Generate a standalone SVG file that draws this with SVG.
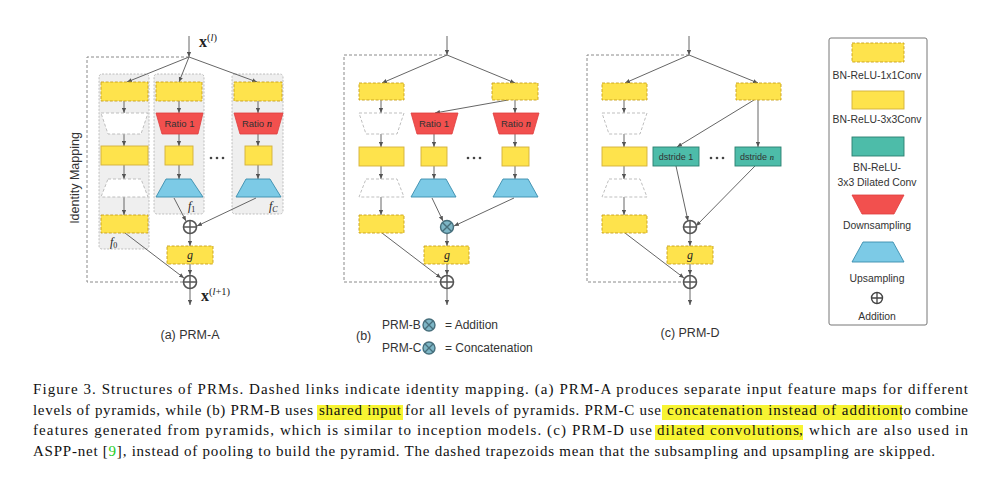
<svg xmlns="http://www.w3.org/2000/svg" width="982" height="495" viewBox="0 0 982 495">
<defs>
<marker id="ah" viewBox="0 0 6 6" refX="6" refY="3" markerWidth="5" markerHeight="5" orient="auto" markerUnits="userSpaceOnUse"><path d="M0,0.5 L6,3 L0,5.5z" fill="#555"/></marker>
<style>
.y1{fill:#fee34c;stroke:#c79f1c;stroke-width:0.9;stroke-dasharray:3 1.6}
.y3{fill:#fee34c;stroke:#d3b03a;stroke-width:0.9}
.ph{fill:#fff;stroke:#b8b8b8;stroke-width:0.9;stroke-dasharray:3 2}
.dn{fill:#f2504e;stroke:#de3e3e;stroke-width:0.8}
.up{fill:#7ccae6;stroke:#3a8cad;stroke-width:0.9}
.dl{fill:#4dbca9;stroke:#2b7e6f;stroke-width:0.9}
.ln{stroke:#666;stroke-width:1;fill:none}
.id{stroke:#8a8a8a;stroke-width:1;stroke-dasharray:3 2;fill:none}
.panel{fill:#efefef;stroke:#b0b0b0;stroke-width:0.8;stroke-dasharray:2 1.5}
.plus{fill:#fff;stroke:#555;stroke-width:1.6}
.otim{fill:#7db6c6;stroke:#476f7c;stroke-width:1.4}
.sans{font-family:"Liberation Sans",Arial,sans-serif;fill:#333}
.serif{font-family:"Liberation Serif","Times New Roman",serif;fill:#222}
.cap{font-family:"Liberation Serif","Times New Roman",serif;font-size:15px;fill:#111}
.dot{fill:#444}
</style>
</defs>
<rect width="982" height="495" fill="#fff"/>

<!-- ================= PRM-A ================= -->
<g id="prmA-panels">
<rect class="panel" x="99" y="74" width="50" height="175" rx="3"/>
<rect class="panel" x="154" y="74" width="50" height="140" rx="3"/>
<rect class="panel" x="232" y="74" width="51" height="140" rx="3"/>
</g>
<g id="prmA-connectors">
<line class="ln" x1="189" y1="36" x2="189" y2="57" marker-end="url(#ah)"/>
<polyline class="id" points="189,57 87,57 87,282 183,282"/>
<line class="ln" x1="189" y1="57" x2="127" y2="82" marker-end="url(#ah)"/>
<line class="ln" x1="189" y1="57" x2="179" y2="82" marker-end="url(#ah)"/>
<line class="ln" x1="189" y1="57" x2="257" y2="82" marker-end="url(#ah)"/>
<line class="ln" x1="124" y1="101" x2="124" y2="113" marker-end="url(#ah)"/>
<line class="ln" x1="124" y1="134" x2="124" y2="146" marker-end="url(#ah)"/>
<line class="ln" x1="124" y1="165" x2="124" y2="179" marker-end="url(#ah)"/>
<line class="ln" x1="124" y1="197" x2="124" y2="215" marker-end="url(#ah)"/>
<line class="ln" x1="179" y1="101" x2="179" y2="113" marker-end="url(#ah)"/>
<line class="ln" x1="179" y1="134" x2="179" y2="146" marker-end="url(#ah)"/>
<line class="ln" x1="179" y1="165" x2="179" y2="179" marker-end="url(#ah)"/>
<line class="ln" x1="258" y1="101" x2="258" y2="113" marker-end="url(#ah)"/>
<line class="ln" x1="258" y1="134" x2="258" y2="146" marker-end="url(#ah)"/>
<line class="ln" x1="258" y1="165" x2="258" y2="179" marker-end="url(#ah)"/>
<line class="ln" x1="174" y1="198" x2="186" y2="221" marker-end="url(#ah)"/>
<line class="ln" x1="256" y1="198" x2="197" y2="226" marker-end="url(#ah)"/>
<line class="ln" x1="125" y1="233" x2="184" y2="278" marker-end="url(#ah)"/>
<line class="ln" x1="190" y1="234" x2="190" y2="246" marker-end="url(#ah)"/>
<line class="ln" x1="190" y1="264" x2="190" y2="275" marker-end="url(#ah)"/>
<line class="ln" x1="190" y1="289" x2="190" y2="305" marker-end="url(#ah)"/>
</g>
<g id="prmA-col0">
<rect class="y1" x="101" y="82" width="47" height="19"/>
<polygon class="ph" points="101,113 148,113 141,134 108,134"/>
<rect class="y3" x="101" y="146" width="47" height="19"/>
<polygon class="ph" points="108,179 141,179 148,197 101,197"/>
<rect class="y1" x="101" y="215" width="47" height="18"/>
<text class="serif" x="110" y="246" font-size="12" font-style="italic">f<tspan font-size="8" font-style="normal" dy="2">0</tspan></text>
</g>
<g id="prmA-col1">
<rect class="y1" x="156" y="82" width="46" height="19"/>
<polygon class="dn" points="156,113 203,113 198,134 162,134"/>
<text class="sans" x="179.5" y="127" font-size="9.5" text-anchor="middle" fill="#3a1010">Ratio 1</text>
<rect class="y3" x="165" y="146" width="28" height="19"/>
<polygon class="up" points="166,179 191,179 203,197 156,197"/>
<text class="serif" x="188" y="210" font-size="12" font-style="italic">f<tspan font-size="8" font-style="normal" dy="2">1</tspan></text>
</g>
<g id="prmA-colC">
<rect class="y1" x="234" y="82" width="48" height="19"/>
<polygon class="dn" points="234,113 283,113 277,134 240,134"/>
<text class="sans" x="257" y="127" font-size="9.5" text-anchor="middle" fill="#3a1010">Ratio <tspan class="serif" font-size="10.5" font-style="italic" fill="#3a1010">n</tspan></text>
<rect class="y3" x="245" y="146" width="27" height="19"/>
<polygon class="up" points="246,179 270,179 281,197 236,197"/>
<text class="serif" x="269" y="210" font-size="12" font-style="italic">f<tspan font-size="8" dy="2">C</tspan></text>
</g>
<g id="prmA-dots"><circle class="dot" cx="211" cy="158" r="1.3"/><circle class="dot" cx="217" cy="158" r="1.3"/><circle class="dot" cx="223" cy="158" r="1.3"/></g>
<g id="prmA-add1"><circle class="plus" cx="190" cy="227" r="6.5"/><path d="M183.5,227h13M190,220.5v13" stroke="#555" stroke-width="1.4"/></g>
<g id="prmA-g"><rect class="y1" x="167" y="246" width="46" height="18"/><text class="serif" x="190" y="259" font-size="12" font-style="italic" text-anchor="middle">g</text></g>
<g id="prmA-add2"><circle class="plus" cx="190" cy="282" r="6.5"/><path d="M183.5,282h13M190,275.5v13" stroke="#555" stroke-width="1.4"/></g>
<g id="prmA-labels">
<text class="serif" x="199" y="47" font-size="16" font-weight="bold">x<tspan font-size="10.5" font-weight="normal" dy="-6">(<tspan font-style="italic">l</tspan>)</tspan></text>
<text class="serif" x="201" y="301" font-size="16" font-weight="bold">x<tspan font-size="10.5" font-weight="normal" dy="-6">(<tspan font-style="italic">l</tspan>+1)</tspan></text>
<text class="sans" transform="translate(79,178) rotate(-90)" font-size="12.5" text-anchor="middle">Identity Mapping</text>
<text class="sans" x="190" y="339" font-size="12.5" text-anchor="middle">(a) PRM-A</text>
</g>

<!-- ================= PRM-B ================= -->
<g id="prmB-connectors">
<line class="ln" x1="447" y1="36" x2="447" y2="55" marker-end="url(#ah)"/>
<polyline class="id" points="447,55 344,55 344,282 440,282"/>
<line class="ln" x1="447" y1="55" x2="382" y2="83" marker-end="url(#ah)"/>
<line class="ln" x1="447" y1="55" x2="515" y2="83" marker-end="url(#ah)"/>
<line class="ln" x1="381" y1="100" x2="381" y2="113" marker-end="url(#ah)"/>
<line class="ln" x1="381" y1="134" x2="381" y2="147" marker-end="url(#ah)"/>
<line class="ln" x1="381" y1="166" x2="381" y2="179" marker-end="url(#ah)"/>
<line class="ln" x1="381" y1="197" x2="381" y2="215" marker-end="url(#ah)"/>
<line class="ln" x1="508" y1="100" x2="435" y2="113" marker-end="url(#ah)"/>
<line class="ln" x1="515" y1="100" x2="515" y2="113" marker-end="url(#ah)"/>
<line class="ln" x1="434" y1="134" x2="434" y2="147" marker-end="url(#ah)"/>
<line class="ln" x1="434" y1="166" x2="434" y2="179" marker-end="url(#ah)"/>
<line class="ln" x1="515" y1="134" x2="515" y2="147" marker-end="url(#ah)"/>
<line class="ln" x1="515" y1="166" x2="515" y2="179" marker-end="url(#ah)"/>
<line class="ln" x1="432" y1="198" x2="443" y2="221" marker-end="url(#ah)"/>
<line class="ln" x1="514" y1="198" x2="454" y2="226" marker-end="url(#ah)"/>
<line class="ln" x1="382" y1="233" x2="441" y2="278" marker-end="url(#ah)"/>
<line class="ln" x1="447" y1="234" x2="447" y2="246" marker-end="url(#ah)"/>
<line class="ln" x1="447" y1="264" x2="447" y2="275" marker-end="url(#ah)"/>
<line class="ln" x1="447" y1="289" x2="447" y2="305" marker-end="url(#ah)"/>
</g>
<g id="prmB-col0">
<rect class="y1" x="359" y="83" width="45" height="17"/>
<polygon class="ph" points="359,113 404,113 397,134 366,134"/>
<rect class="y3" x="359" y="147" width="45" height="19"/>
<polygon class="ph" points="366,179 397,179 404,197 359,197"/>
<rect class="y1" x="359" y="215" width="45" height="18"/>
</g>
<g id="prmB-top"><rect class="y1" x="492" y="83" width="46" height="17"/></g>
<g id="prmB-col1">
<polygon class="dn" points="411,113 458,113 452,134 417,134"/>
<text class="sans" x="434" y="127" font-size="9.5" text-anchor="middle" fill="#3a1010">Ratio 1</text>
<rect class="y3" x="421" y="147" width="26" height="19"/>
<polygon class="up" points="421,179 446,179 456,197 411,197"/>
</g>
<g id="prmB-colN">
<polygon class="dn" points="493,113 539,113 533,134 499,134"/>
<text class="sans" x="516" y="127" font-size="9.5" text-anchor="middle" fill="#3a1010">Ratio <tspan class="serif" font-size="10.5" font-style="italic" fill="#3a1010">n</tspan></text>
<rect class="y3" x="502" y="147" width="27" height="19"/>
<polygon class="up" points="503,179 528,179 538,197 493,197"/>
</g>
<g id="prmB-dots"><circle class="dot" cx="468" cy="158" r="1.3"/><circle class="dot" cx="474" cy="158" r="1.3"/><circle class="dot" cx="480" cy="158" r="1.3"/></g>
<g id="prmB-comb"><circle class="otim" cx="447" cy="227" r="6.5"/><path d="M442.4,222.4l9.2,9.2M451.6,222.4l-9.2,9.2" stroke="#476f7c" stroke-width="1.4"/></g>
<g id="prmB-g"><rect class="y1" x="424" y="246" width="45" height="18"/><text class="serif" x="447" y="259" font-size="12" font-style="italic" text-anchor="middle">g</text></g>
<g id="prmB-add2"><circle class="plus" cx="447" cy="282" r="6.5"/><path d="M440.5,282h13M447,275.5v13" stroke="#555" stroke-width="1.4"/></g>
<g id="prmB-legend">
<text class="sans" x="356" y="340" font-size="12.5">(b)</text>
<text class="sans" x="382" y="329" font-size="12">PRM-B</text>
<circle class="otim" cx="429" cy="325" r="6"/><path d="M424.8,320.8l8.4,8.4M433.2,320.8l-8.4,8.4" stroke="#476f7c" stroke-width="1.3"/>
<text class="sans" x="445" y="329" font-size="12">= Addition</text>
<text class="sans" x="382" y="352" font-size="12">PRM-C</text>
<circle class="otim" cx="429" cy="348" r="6"/><path d="M424.8,343.8l8.4,8.4M433.2,343.8l-8.4,8.4" stroke="#476f7c" stroke-width="1.3"/>
<text class="sans" x="445" y="352" font-size="12">= Concatenation</text>
</g>

<!-- ================= PRM-D ================= -->
<g id="prmD-connectors">
<line class="ln" x1="689" y1="36" x2="689" y2="55" marker-end="url(#ah)"/>
<polyline class="id" points="689,55 587,55 587,282 683,282"/>
<line class="ln" x1="689" y1="55" x2="625" y2="83" marker-end="url(#ah)"/>
<line class="ln" x1="689" y1="55" x2="758" y2="83" marker-end="url(#ah)"/>
<line class="ln" x1="624" y1="100" x2="624" y2="113" marker-end="url(#ah)"/>
<line class="ln" x1="624" y1="134" x2="624" y2="147" marker-end="url(#ah)"/>
<line class="ln" x1="624" y1="166" x2="624" y2="179" marker-end="url(#ah)"/>
<line class="ln" x1="624" y1="197" x2="624" y2="215" marker-end="url(#ah)"/>
<line class="ln" x1="754" y1="100" x2="677" y2="147" marker-end="url(#ah)"/>
<line class="ln" x1="758" y1="100" x2="758" y2="147" marker-end="url(#ah)"/>
<line class="ln" x1="676" y1="166" x2="688" y2="221" marker-end="url(#ah)"/>
<line class="ln" x1="755" y1="166" x2="696" y2="226" marker-end="url(#ah)"/>
<line class="ln" x1="625" y1="233" x2="684" y2="278" marker-end="url(#ah)"/>
<line class="ln" x1="690" y1="234" x2="690" y2="246" marker-end="url(#ah)"/>
<line class="ln" x1="690" y1="264" x2="690" y2="275" marker-end="url(#ah)"/>
<line class="ln" x1="690" y1="289" x2="690" y2="305" marker-end="url(#ah)"/>
</g>
<g id="prmD-col0">
<rect class="y1" x="602" y="83" width="45" height="17"/>
<polygon class="ph" points="602,113 647,113 640,134 609,134"/>
<rect class="y3" x="602" y="147" width="45" height="19"/>
<polygon class="ph" points="609,179 640,179 647,197 602,197"/>
<rect class="y1" x="602" y="215" width="45" height="18"/>
</g>
<g id="prmD-top"><rect class="y1" x="736" y="83" width="45" height="17"/></g>
<g id="prmD-d1"><rect class="dl" x="653" y="147" width="46" height="19"/><text class="sans" x="676" y="159.5" font-size="9" text-anchor="middle" fill="#123">dstride 1</text></g>
<g id="prmD-dn"><rect class="dl" x="735" y="147" width="46" height="19"/><text class="sans" x="757" y="159.5" font-size="9" text-anchor="middle" fill="#123">dstride <tspan class="serif" font-size="8.5" font-style="italic" fill="#123">n</tspan></text></g>
<g id="prmD-dots"><circle class="dot" cx="711" cy="158" r="1.3"/><circle class="dot" cx="717" cy="158" r="1.3"/><circle class="dot" cx="723" cy="158" r="1.3"/></g>
<g id="prmD-add1"><circle class="plus" cx="690" cy="227" r="6.5"/><path d="M683.5,227h13M690,220.5v13" stroke="#555" stroke-width="1.4"/></g>
<g id="prmD-g"><rect class="y1" x="667" y="246" width="46" height="18"/><text class="serif" x="690" y="259" font-size="12" font-style="italic" text-anchor="middle">g</text></g>
<g id="prmD-add2"><circle class="plus" cx="690" cy="282" r="6.5"/><path d="M683.5,282h13M690,275.5v13" stroke="#555" stroke-width="1.4"/></g>
<text class="sans" x="690" y="337" font-size="12.5" text-anchor="middle">(c) PRM-D</text>

<!-- ================= Legend ================= -->
<g id="legend">
<rect x="829" y="38" width="98" height="287" rx="2" fill="#fff" stroke="#777" stroke-width="1"/>
<rect class="y1" x="852" y="43" width="52" height="19"/>
<text class="sans" x="877" y="79" font-size="10.4" text-anchor="middle">BN-ReLU-1x1Conv</text>
<rect class="y3" x="852" y="91" width="52" height="18"/>
<text class="sans" x="877" y="123" font-size="10.4" text-anchor="middle">BN-ReLU-3x3Conv</text>
<rect class="dl" x="852" y="137" width="52" height="19"/>
<text class="sans" x="877" y="171" font-size="10.4" text-anchor="middle">BN-ReLU-</text>
<text class="sans" x="877" y="186" font-size="10.4" text-anchor="middle">3x3 Dilated Conv</text>
<polygon class="dn" points="852,195 904,195 894,214 862,214"/>
<text class="sans" x="877" y="229" font-size="10.4" text-anchor="middle">Downsampling</text>
<polygon class="up" points="863,242 893,242 904,262 852,262"/>
<text class="sans" x="877" y="282" font-size="10.4" text-anchor="middle">Upsampling</text>
<circle cx="877" cy="298" r="5.5" fill="#fff" stroke="#444" stroke-width="1.4"/><path d="M871.5,298h11M877,292.5v11" stroke="#444" stroke-width="1.3"/>
<text class="sans" x="877" y="320" font-size="10.4" text-anchor="middle">Addition</text>
</g>

<!-- ================= Caption ================= -->
<g id="caption">
<rect x="317" y="405" width="86" height="15" fill="#f7f432"/>
<rect x="662" y="405" width="240" height="15" fill="#f7f432"/>
<rect x="655" y="425" width="148" height="15" fill="#f7f432"/>
<text class="cap" x="33" y="394" textLength="935" lengthAdjust="spacing">Figure 3. Structures of PRMs.  Dashed links indicate identity mapping.  (a) PRM-A produces separate input feature maps for different</text>
<text class="cap" x="33" y="414.5" textLength="280" lengthAdjust="spacing">levels of pyramids, while (b) PRM-B uses</text>
<text class="cap" x="319" y="414.5" textLength="82" lengthAdjust="spacing">shared input</text>
<text class="cap" x="405" y="414.5" textLength="256" lengthAdjust="spacing">for all levels of pyramids. PRM-C use</text>
<text class="cap" x="667" y="414.5" textLength="231" lengthAdjust="spacing">concatenation instead of addition</text>
<text class="cap" x="899" y="414.5" textLength="69" lengthAdjust="spacing">to combine</text>
<text class="cap" x="33" y="435" textLength="619" lengthAdjust="spacing">features generated from pyramids, which is similar to inception models.  (c) PRM-D use</text>
<text class="cap" x="657" y="435" textLength="142" lengthAdjust="spacing">dilated convolutions</text>
<text class="cap" x="799" y="435" textLength="169" lengthAdjust="spacing">, which are also used in</text>
<text class="cap" x="33" y="455.5" textLength="902" lengthAdjust="spacing">ASPP-net [<tspan fill="#22cc22">9</tspan>], instead of pooling to build the pyramid. The dashed trapezoids mean that the subsampling and upsampling are skipped.</text>
</g>
</svg>
